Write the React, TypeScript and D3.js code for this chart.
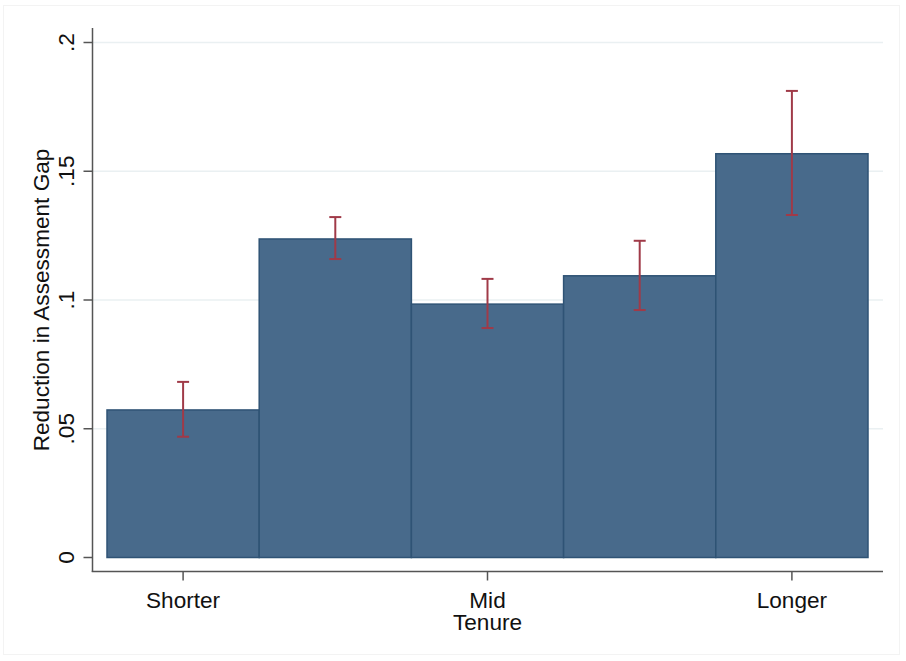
import React from "react";
import * as d3 from "d3";

const categories = ["1", "2", "3", "4", "5"];
const values = [0.0573, 0.1237, 0.0984, 0.1094, 0.1568];
const lower = [0.0469, 0.1159, 0.0891, 0.0961, 0.133];
const upper = [0.0682, 0.1322, 0.1082, 0.123, 0.1812];
const xTickLabels = [
  { cat: "1", label: "Shorter" },
  { cat: "3", label: "Mid" },
  { cat: "5", label: "Longer" },
];
const yTicks = [0, 0.05, 0.1, 0.15, 0.2];
const yTickLabels = ["0", ".05", ".1", ".15", ".2"];

const W = 906;
const H = 661;
const FONT = "'Liberation Sans', Arial, sans-serif";

export default function App() {
  const x = d3.scaleBand<string>().domain(categories).range([107, 868]).padding(0);
  const y = d3.scaleLinear().domain([0, 0.2]).range([557.5, 42.5]);
  const axisX = 92.5;
  const axisY = 571.5;
  const plotRight = 883;
  const plotTop = 28;
  const capHalf = 6;
  const fs = 22.6;

  return (
    <svg
      width={W}
      height={H}
      style={{ position: "absolute", left: 0, top: 0, background: "#ffffff" }}
      fontFamily={FONT}
    >
      <rect x={0} y={0} width={W} height={H} fill="#ffffff" />
      <rect x={3.5} y={5.5} width={896} height={649} fill="none" stroke="#f3f3f3" strokeWidth={1} />
      {/* gridlines */}
      {yTicks.slice(1).map((t) => (
        <line
          key={"g" + t}
          x1={axisX}
          x2={plotRight}
          y1={y(t)}
          y2={y(t)}
          stroke="#eaf0f2"
          strokeWidth={1.5}
        />
      ))}
      {/* bars */}
      {categories.map((c, i) => (
        <rect
          key={"b" + c}
          x={x(c)!}
          y={y(values[i])}
          width={x.bandwidth()}
          height={y(0) - y(values[i])}
          fill="#486a8b"
          stroke="#2f5375"
          strokeWidth={1.5}
        />
      ))}
      {/* error bars */}
      {categories.map((c, i) => {
        const cx = x(c)! + x.bandwidth() / 2;
        return (
          <g key={"e" + c} stroke="#a03a48" strokeWidth={2}>
            <line x1={cx} x2={cx} y1={y(upper[i])} y2={y(lower[i])} />
            <line x1={cx - capHalf} x2={cx + capHalf} y1={y(upper[i])} y2={y(upper[i])} />
            <line x1={cx - capHalf} x2={cx + capHalf} y1={y(lower[i])} y2={y(lower[i])} />
          </g>
        );
      })}
      {/* y axis */}
      <line x1={axisX} x2={axisX} y1={plotTop} y2={axisY + 0.5} stroke="#555" strokeWidth={1.5} />
      {yTicks.map((t, i) => (
        <g key={"yt" + t}>
          <line x1={axisX - 9} x2={axisX} y1={y(t)} y2={y(t)} stroke="#555" strokeWidth={1.5} />
          <text
            transform={`translate(74,${y(t)}) rotate(-90)`}
            textAnchor="middle"
            fontSize={fs}
            fill="#111"
          >
            {yTickLabels[i]}
          </text>
        </g>
      ))}
      <text
        transform={`translate(49,${(y(0) + y(0.2)) / 2}) rotate(-90)`}
        textAnchor="middle"
        fontSize={fs}
        fill="#111"
      >
        Reduction in Assessment Gap
      </text>
      {/* x axis */}
      <line x1={axisX - 0.75} x2={plotRight} y1={axisY} y2={axisY} stroke="#555" strokeWidth={1.5} />
      {xTickLabels.map((d) => {
        const cx = x(d.cat)! + x.bandwidth() / 2;
        return (
          <g key={"xt" + d.label}>
            <line x1={cx} x2={cx} y1={axisY} y2={axisY + 9} stroke="#555" strokeWidth={1.5} />
            <text x={cx} y={608} textAnchor="middle" fontSize={fs} fill="#111">
              {d.label}
            </text>
          </g>
        );
      })}
      <text x={x("3")! + x.bandwidth() / 2} y={630} textAnchor="middle" fontSize={fs} fill="#111">
        Tenure
      </text>
    </svg>
  );
}
